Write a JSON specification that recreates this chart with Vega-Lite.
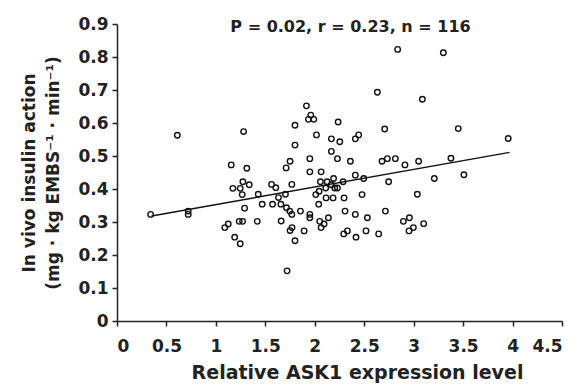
{
  "$schema": "https://vega.github.io/schema/vega-lite/v6.json",
  "width": 445,
  "height": 297,
  "autosize": "none",
  "padding": {"left": 117, "top": 24, "right": 19, "bottom": 64},
  "background": "white",
  "title": {
    "text": "P = 0.02, r = 0.23, n = 116",
    "font": "DejaVu Sans",
    "fontSize": 16,
    "fontWeight": "bold",
    "color": "#222",
    "anchor": "middle",
    "dx": 11,
    "offset": -20
  },
  "datasets": {
    "pts": [
      {"x":0.34,"y":0.323},{"x":0.61,"y":0.563},{"x":0.72,"y":0.333},{"x":0.72,"y":0.323},
      {"x":1.28,"y":0.574},{"x":1.155,"y":0.473},{"x":1.313,"y":0.463},{"x":1.273,"y":0.422},
      {"x":1.172,"y":0.402},{"x":1.246,"y":0.402},{"x":1.337,"y":0.413},{"x":1.266,"y":0.383},
      {"x":1.428,"y":0.384},{"x":1.29,"y":0.342},{"x":1.468,"y":0.354},{"x":1.236,"y":0.302},
      {"x":1.27,"y":0.302},{"x":1.418,"y":0.302},{"x":1.125,"y":0.294},{"x":1.09,"y":0.283},
      {"x":1.19,"y":0.254},{"x":1.246,"y":0.234},
      {"x":1.563,"y":0.414},{"x":1.606,"y":0.404},{"x":1.633,"y":0.374},{"x":1.573,"y":0.354},
      {"x":1.657,"y":0.354},{"x":1.703,"y":0.384},{"x":1.714,"y":0.343},{"x":1.747,"y":0.333},
      {"x":1.768,"y":0.323},{"x":1.66,"y":0.303},{"x":1.77,"y":0.283},{"x":1.75,"y":0.274},
      {"x":1.8,"y":0.243},{"x":1.72,"y":0.152},{"x":1.768,"y":0.414},{"x":1.71,"y":0.464},
      {"x":1.75,"y":0.484},{"x":1.8,"y":0.533},{"x":1.8,"y":0.593},
      {"x":1.855,"y":0.333},{"x":1.892,"y":0.273},{"x":1.916,"y":0.652},{"x":1.936,"y":0.611},
      {"x":1.96,"y":0.624},{"x":1.99,"y":0.611},{"x":1.95,"y":0.492},{"x":1.95,"y":0.452},
      {"x":1.95,"y":0.323},{"x":1.95,"y":0.313},{"x":2.017,"y":0.564},{"x":2.01,"y":0.383},
      {"x":2.04,"y":0.354},{"x":2.044,"y":0.393},{"x":2.05,"y":0.302},{"x":2.064,"y":0.283},
      {"x":2.064,"y":0.452},{"x":2.057,"y":0.422},{"x":2.094,"y":0.294},{"x":2.111,"y":0.403},
      {"x":2.114,"y":0.373},{"x":2.125,"y":0.422},{"x":2.138,"y":0.313},{"x":2.168,"y":0.552},
      {"x":2.168,"y":0.514},{"x":2.168,"y":0.413},{"x":2.185,"y":0.373},{"x":2.19,"y":0.432},
      {"x":2.202,"y":0.403},{"x":2.229,"y":0.403},{"x":2.229,"y":0.492},{"x":2.236,"y":0.603},
      {"x":2.253,"y":0.543},{"x":2.286,"y":0.422},{"x":2.296,"y":0.373},{"x":2.293,"y":0.264},
      {"x":2.306,"y":0.333},{"x":2.33,"y":0.273},{"x":2.36,"y":0.484},{"x":2.41,"y":0.552},
      {"x":2.444,"y":0.564},{"x":2.41,"y":0.442},{"x":2.41,"y":0.323},{"x":2.417,"y":0.254},
      {"x":2.495,"y":0.432},{"x":2.478,"y":0.383},{"x":2.518,"y":0.273},{"x":2.532,"y":0.313},
      {"x":2.633,"y":0.693},{"x":2.646,"y":0.264},{"x":2.68,"y":0.484},{"x":2.707,"y":0.582},
      {"x":2.714,"y":0.333},{"x":2.734,"y":0.492},{"x":2.747,"y":0.422},{"x":2.815,"y":0.492},
      {"x":2.896,"y":0.302},{"x":2.912,"y":0.473},{"x":2.957,"y":0.313},{"x":2.953,"y":0.273},
      {"x":2.997,"y":0.283},{"x":3.037,"y":0.384},{"x":3.05,"y":0.484},
      {"x":2.838,"y":0.823},{"x":3.3,"y":0.813},{"x":3.088,"y":0.672},{"x":3.451,"y":0.583},
      {"x":3.956,"y":0.553},{"x":3.377,"y":0.493},{"x":3.508,"y":0.443},{"x":3.209,"y":0.432},
      {"x":3.101,"y":0.295}
    ],
    "fit": [{"x":0.35,"y":0.318},{"x":3.97,"y":0.511}]
  },
  "encoding": {
    "x": {
      "field": "x", "type": "quantitative",
      "scale": {"domain": [0, 4.5], "nice": false, "zero": false},
      "axis": {
        "values": [0,0.5,1,1.5,2,2.5,3,3.5,4,4.5],
        "format": "~g",
        "title": "Relative ASK1 expression level",
        "grid": false,
        "titleX": 240,
        "titleFontSize": 19,
        "titlePadding": 9
      }
    },
    "y": {
      "field": "y", "type": "quantitative",
      "scale": {"domain": [0, 0.9], "nice": false},
      "axis": {
        "values": [0,0.1,0.2,0.3,0.4,0.5,0.6,0.7,0.8,0.9],
        "format": "~g",
        "title": ["In vivo insulin action", "(mg · kg EMBS⁻¹ · min⁻¹)"],
        "grid": false,
        "titlePadding": 15
      }
    }
  },
  "layer": [
    {
      "data": {"name": "pts"},
      "mark": {"type": "point", "shape": "circle", "filled": false, "size": 30, "strokeWidth": 1.4, "color": "#111", "opacity": 1}
    },
    {
      "data": {"name": "fit"},
      "mark": {"type": "line", "color": "#111", "strokeWidth": 1.5}
    }
  ],
  "config": {
    "view": {"stroke": null},
    "axis": {
      "labelFont": "DejaVu Sans",
      "labelFontSize": 17,
      "labelFontWeight": "bold",
      "labelColor": "#222",
      "titleFont": "DejaVu Sans",
      "titleFontSize": 17,
      "titleFontWeight": "bold",
      "titleColor": "#222",
      "domainColor": "#222",
      "domainWidth": 1.5,
      "tickColor": "#222",
      "tickWidth": 1.5,
      "tickSize": 5,
      "labelPadding": 4
    },
    "axisX": {"labelPadding": 12},
    "axisY": {"titleLineHeight": 24}
  }
}
